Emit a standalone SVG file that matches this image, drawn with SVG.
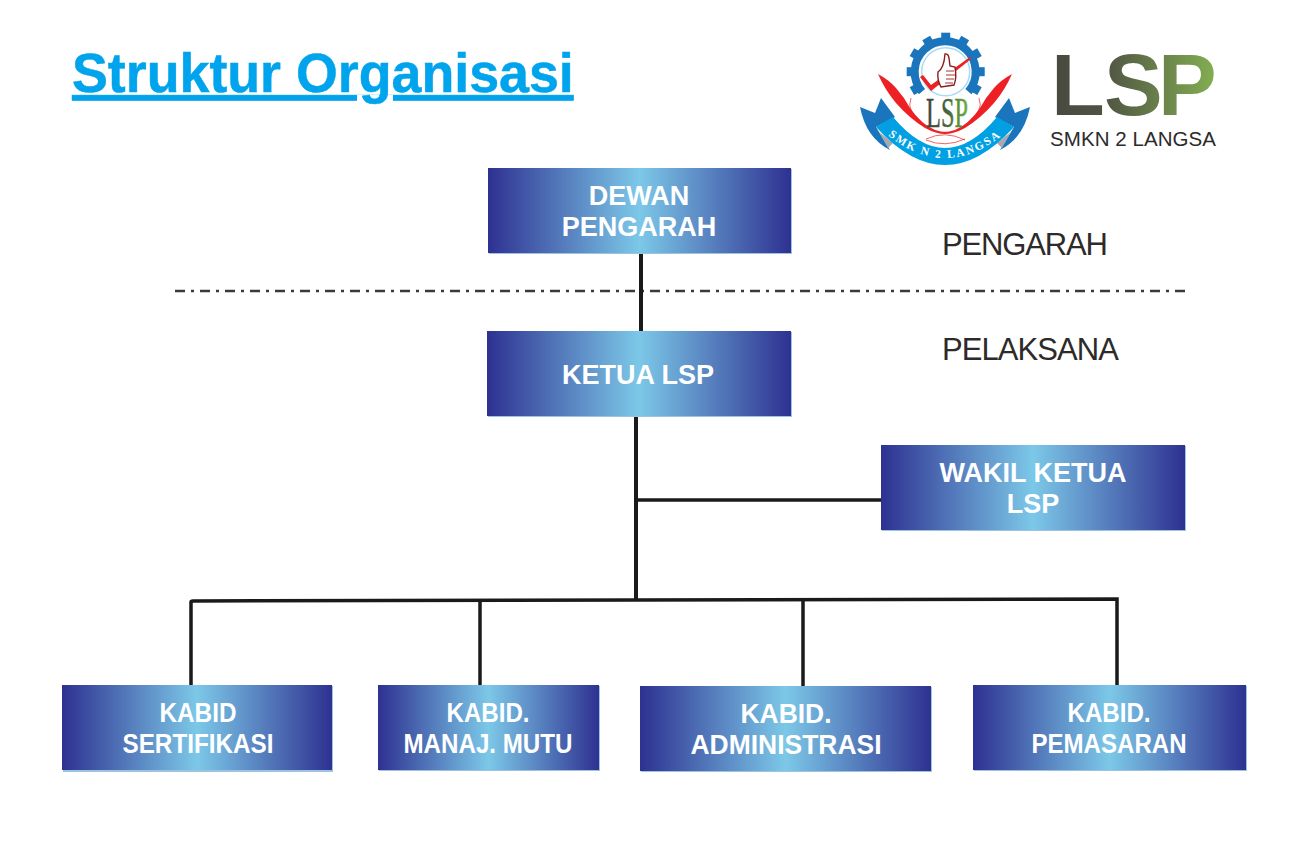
<svg xmlns="http://www.w3.org/2000/svg" width="1309" height="846" viewBox="0 0 1309 846">
<style>
.b{fill:url(#box);stroke:none}
.s{fill:#9cc4e0}
.t{font-family:"Liberation Sans",Arial,sans-serif;font-weight:700;fill:#fff;text-anchor:middle;font-size:27px}
.l{font-family:"Liberation Sans",Arial,sans-serif;fill:#2d2a2a;font-size:31px}
.c{fill:none;stroke:#1a1a1a;stroke-width:4}
</style>
<defs>
<linearGradient id="box" x1="0" x2="1" y1="0" y2="0"><stop offset="0" stop-color="#2e3191"/><stop offset=".5" stop-color="#7cc8e8"/><stop offset="1" stop-color="#2e3191"/></linearGradient>
<linearGradient id="lsp" gradientUnits="userSpaceOnUse" x1="1056" x2="1214" y1="0" y2="0"><stop offset="0" stop-color="#4a4a40"/><stop offset=".3" stop-color="#4f5343"/><stop offset="1" stop-color="#82ad52"/></linearGradient>
<linearGradient id="lsp2" gradientUnits="userSpaceOnUse" x1="926" x2="968" y1="0" y2="0"><stop offset="0" stop-color="#3f4438"/><stop offset=".5" stop-color="#47633c"/><stop offset="1" stop-color="#6cb33f"/></linearGradient>
<path id="arc" d="M875 124Q945 192 1015 124"/>
<rect id="tooth" x="941.200" y="32.700" width="9" height="9"/>
<path id="wing" d="M878 74Q889 80 896 88Q904 97 910 108Q921 124 935 130Q941 132 946 132V134Q936 134 925 128Q909 118 896 103Q885 90 878 74Z"/>
<path id="tail" d="M860 107L875 113L881 98L895 117L876 127L890 150Q866 138 860 107Z"/>
</defs>
<g id="title"><text transform="translate(72 92) scale(.96 1)" font-family="Liberation Sans,Arial,sans-serif" font-weight="700" font-size="56" fill="#00a4ec" stroke="#00a4ec" stroke-width=".5" style="text-decoration:underline;text-decoration-thickness:2px;text-decoration-skip-ink:none;text-underline-offset:5px">Struktur Organisasi</text></g>
<g id="logo">
<path d="M922 91.600A30.500 30.500 0 1 1 968.400 91.600" fill="none" stroke="#1b75bc" stroke-width="8"/>
<g fill="#1b75bc"><use href="#tooth"/><use href="#tooth" transform="rotate(30 945.700 71.700)"/><use href="#tooth" transform="rotate(60 945.700 71.700)"/><use href="#tooth" transform="rotate(90 945.700 71.700)"/><use href="#tooth" transform="rotate(120 945.700 71.700)"/><use href="#tooth" transform="rotate(-30 945.700 71.700)"/><use href="#tooth" transform="rotate(-60 945.700 71.700)"/><use href="#tooth" transform="rotate(-90 945.700 71.700)"/><use href="#tooth" transform="rotate(-120 945.700 71.700)"/></g>
<circle cx="945.700" cy="71.700" r="24" fill="#fff" stroke="#a8dcf4" stroke-width="1.500"/>
<path d="M920 77L923 75L931 85L970 57L971 59L931 91Z" fill="#ed2024"/>
<path d="M945 54Q948 53 949 58L950 66L955 67Q957 78 954 85L941 87Q937 80 938 72Q944 68 945 54Z" fill="#fff" stroke="#8a1c1c" stroke-width="1.400"/>
<path d="M946 71H954M946 75H955M946 79H954M945 83H953" fill="none" stroke="#a33" stroke-width="1"/>
<g fill="#ed2024"><use href="#wing"/><use href="#wing" transform="matrix(-1 0 0 1 1890 0)"/></g>
<path d="M911 98Q905 112 926 127M979 98Q985 112 964 127M926 139Q945 130 965 140M926 140Q945 148 965 139" fill="none" stroke="#ed2024" stroke-width=".7"/>
<g fill="#1b75bc"><use href="#tail"/><use href="#tail" transform="matrix(-1 0 0 1 1890 0)"/></g>
<path d="M879 132L888 148L893 143ZM1011 132L1002 148L997 143Z" fill="#a8a9ad"/>
<path d="M876 127L893 117Q945 179 997 117L1014 127Q945 203 876 127Z" fill="#00a0e3"/>
<text font-family="Liberation Serif,serif" font-weight="700" font-size="11.500" fill="#fff" letter-spacing="2"><textPath href="#arc" startOffset="50%" text-anchor="middle">SMK N 2 LANGSA</textPath></text>
<text x="926" y="127" font-family="Liberation Serif,serif" font-size="43" fill="url(#lsp2)" stroke="url(#lsp2)" stroke-width=".5" textLength="42" lengthAdjust="spacingAndGlyphs">LSP</text>
<text x="1051 1104 1158" y="115" font-family="Liberation Sans,Arial,sans-serif" font-weight="700" font-size="88" fill="url(#lsp)">LSP</text>
<text x="1050" y="146" font-family="Liberation Sans,Arial,sans-serif" font-size="20.500" fill="#2d2a2a" textLength="166">SMKN 2 LANGSA</text>
</g>
<g id="connectors" class="c">
<path d="M175 291H1190" stroke-width="2.500" stroke-dasharray="10 6 3 6" stroke="#3a3a3a"/>
<path d="M641 253V331"/>
<path d="M636 416V600"/>
<path d="M637 500H881" stroke-width="3.500"/>
<path d="M191 685V602Q191 601 193 601L636 600L1117 599V685" stroke-width="3.500"/>
<path d="M480 601V685" stroke-width="3.500"/>
<path d="M803 600V686" stroke-width="3.500"/>
</g>
<g id="dewan"><rect class="s" x="489" y="169" width="303" height="85"/><rect class="b" x="488" y="168" width="303" height="85"/><text class="t" x="639" y="205">DEWAN</text><text class="t" x="639" y="236">PENGARAH</text></g>
<g id="ketua"><rect class="s" x="488" y="332" width="304" height="85"/><rect class="b" x="487" y="331" width="304" height="85"/><text class="t" x="638" y="384">KETUA LSP</text></g>
<g id="wakil"><rect class="s" x="882" y="446" width="304" height="85"/><rect class="b" x="881" y="445" width="304" height="85"/><text class="t" x="1033" y="482">WAKIL KETUA</text><text class="t" x="1033" y="513">LSP</text></g>
<g id="kabid1"><rect class="s" x="63" y="686" width="270" height="86"/><rect class="b" x="62" y="685" width="270" height="85"/><text class="t" x="198" y="722" textLength="77" lengthAdjust="spacingAndGlyphs">KABID</text><text class="t" x="198" y="753" textLength="151" lengthAdjust="spacingAndGlyphs">SERTIFIKASI</text></g>
<g id="kabid2"><rect class="s" x="379" y="686" width="221" height="85"/><rect class="b" x="378" y="685" width="221" height="85"/><text class="t" x="488" y="722" textLength="83" lengthAdjust="spacingAndGlyphs">KABID.</text><text class="t" x="488" y="753" textLength="169" lengthAdjust="spacingAndGlyphs">MANAJ. MUTU</text></g>
<g id="kabid3"><rect class="s" x="641" y="687" width="291" height="85"/><rect class="b" x="640" y="686" width="291" height="85"/><text class="t" x="786" y="723" textLength="91" lengthAdjust="spacingAndGlyphs">KABID.</text><text class="t" x="786" y="754" textLength="191" lengthAdjust="spacingAndGlyphs">ADMINISTRASI</text></g>
<g id="kabid4"><rect class="s" x="974" y="686" width="273" height="85"/><rect class="b" x="973" y="685" width="273" height="85"/><text class="t" x="1109" y="722" textLength="83" lengthAdjust="spacingAndGlyphs">KABID.</text><text class="t" x="1109" y="753" textLength="155" lengthAdjust="spacingAndGlyphs">PEMASARAN</text></g>
<text id="pengarah" class="l" x="942" y="255" textLength="166">PENGARAH</text>
<text id="pelaksana" class="l" x="942" y="360" textLength="177">PELAKSANA</text>
</svg>
